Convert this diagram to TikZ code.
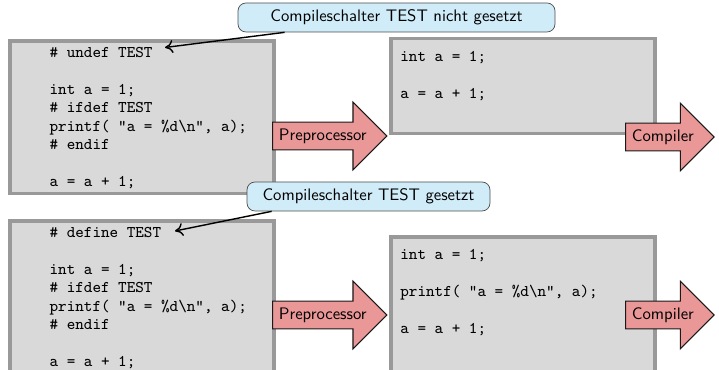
\documentclass[tikz,border=0pt]{standalone}
\usetikzlibrary{shapes.arrows, arrows.meta}

\definecolor{boxgray}{RGB}{217,217,217}
\definecolor{boxframe}{RGB}{153,153,153}
\definecolor{toolred}{RGB}{234,151,151}
\definecolor{noteblue}{RGB}{208,236,248}

\begin{document}
\begin{tikzpicture}[
    srcbox/.style={draw=boxframe, fill=boxgray, line width=2.2pt, outer sep=0pt, minimum width=5.28cm},
    code/.style={anchor=north west, inner sep=0pt, align=left, font=\fontsize{9.3}{10.5}\selectfont\ttfamily},
    tool/.style={single arrow, draw=black!90, semithick, fill=toolred, single arrow head extend=0.4cm,
        anchor=tail, font=\fontsize{9.5}{11}\selectfont\sffamily},
    note/.style={draw=black!70, fill=noteblue, rounded corners=0.16cm, minimum height=0.58cm,
        font=\fontsize{9.5}{11}\selectfont\sffamily},
    >={To[length=1.6mm, width=2.6mm]}]
                \clip (0, 0) rectangle (14.38, 7.4);

                % TEST nicht gesetzt
                \node[srcbox, minimum height=3.05cm] (srcundef) at (2.835, 5.055) {};
                \node[code] (codeundef) at ([shift={(0.79, -0.06)}]srcundef.north west)
                    {\strut\# undef TEST\\ \\ int a = 1;\\ \# ifdef TEST\\
                     printf( "a = \%d\textbackslash n", a);\\ \# endif\\ \\ a = a + 1;};
                \node[srcbox, minimum height=1.9cm] (outundef) at (10.46, 5.68) {};
                \node[code] (codeoutundef) at ([shift={(0.18, -0.19)}]outundef.north west)
                    {\strut int a = 1;\\ \\ a = a + 1;};

                % TEST gesetzt
                \node[srcbox, minimum height=3.05cm] (srcdefine) at (2.835, 1.455) {};
                \node[code] (codedefine) at ([shift={(0.79, -0.06)}]srcdefine.north west)
                    {\strut\# define TEST\\ \\ int a = 1;\\ \# ifdef TEST\\
                     printf( "a = \%d\textbackslash n", a);\\ \# endif\\ \\ a = a + 1;};
                \node[srcbox, minimum height=2.8cm] (outdefine) at (10.46, 1.26) {};
                \node[code] (codeoutdefine) at ([shift={(0.18, -0.19)}]outdefine.north west)
                    {\strut int a = 1;\\ \\ printf( "a = \%d\textbackslash n", a);\\ \\ a = a + 1;};

                \node[tool] (ppundef) at (5.44, 4.68) {Preprocessor};
                \node[tool] (ccundef) at (12.5, 4.66) {Compiler};
                \node[tool] (ppdefine) at (5.44, 1.1) {Preprocessor};
                \node[tool] (ccdefine) at (12.5, 1.1) {Compiler};

                \node[note, minimum width=6.34cm] (noteundef) at (7.93, 7.05) {Compileschalter TEST nicht gesetzt};
                \node[note, minimum width=4.86cm] (notedefine) at (7.37, 3.47) {Compileschalter TEST gesetzt};

                \coordinate (undefmark) at (3.3, 6.45);
                \coordinate (definemark) at (3.5, 2.78);
                \draw[->, thick] ([xshift=0.94cm]noteundef.south west) -- (undefmark);
                \draw[->, thick] ([xshift=0.5cm]notedefine.south west) -- (definemark);
\end{tikzpicture}
\end{document}
